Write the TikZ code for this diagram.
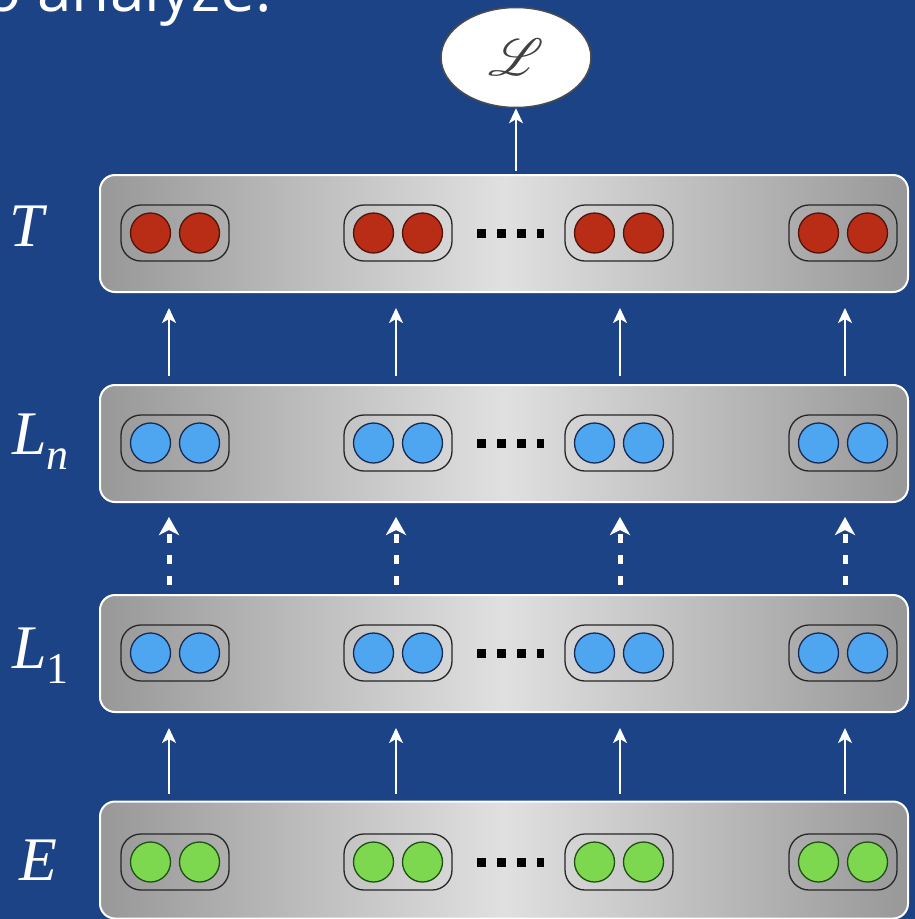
\RequirePackage{fix-cm}
\documentclass[tikz,border=0pt]{standalone}
\usepackage{graphicx}
\usepackage{mathrsfs}
\usepackage{fontspec}
\newfontfamily\titlefont{Open Sans}
\newfontfamily\labfont{Liberation Serif}
\usetikzlibrary{shapes.geometric,arrows.meta}
\definecolor{bgblue}{RGB}{28,67,134}
\definecolor{boxdark}{RGB}{152,152,152}
\definecolor{boxlight}{RGB}{224,224,224}
\definecolor{ured}{RGB}{185,44,22}
\definecolor{uredline}{RGB}{80,20,10}
\definecolor{ublue}{RGB}{78,166,240}
\definecolor{ublueline}{RGB}{25,40,80}
\definecolor{ugreen}{RGB}{125,216,80}
\definecolor{ugreenline}{RGB}{30,80,20}
\newcommand{\labsub}[1]{\raisebox{-15pt}{\fontsize{44}{44}\selectfont #1}}
\tikzset{
  layerbox/.style={draw=white, line width=2pt, rounded corners=15pt,
    minimum width=808pt, minimum height=117pt, inner sep=0pt,
    left color=boxdark, right color=boxdark, middle color=boxlight},
  pill/.style={draw=black!85, line width=1.3pt, rounded corners=20pt,
    minimum width=108pt, minimum height=56pt, inner sep=0pt},
  unit/.style={circle, draw=#1line, fill=#1, line width=1.3pt,
    minimum size=40pt, inner sep=0pt},
  arr/.style={white, line width=2pt, -{Stealth[length=15pt,width=14pt,inset=4pt]}},
  darr/.style={white, line width=5pt, dash pattern=on 9pt off 12pt,
    -{Stealth[length=18pt,width=20pt,inset=5pt]}},
  lab/.style={text=white, font=\labfont\fontsize{62}{62}\selectfont, anchor=base west, inner sep=0pt},
  lossnode/.style={ellipse, draw=black!70, fill=white, line width=1.5pt,
    minimum width=150pt, minimum height=100pt, inner sep=0pt,
    text=black!75}
}
\begin{document}
\begin{tikzpicture}[x=1pt,y=-1pt]
\useasboundingbox (0,0) rectangle (915,919);
\fill[bgblue] (0,0) rectangle (915,919);
\begin{scope}
\clip (0,0) rectangle (915,919);
\node[anchor=base east, text=white, inner sep=0pt, font=\titlefont\fontsize{62}{62}\selectfont] (title) at (272,11) {to analyze:};
\end{scope}

% columns for arrows
\coordinate (c1) at (169,0);
\coordinate (c2) at (396,0);
\coordinate (c3) at (620,0);
\coordinate (c4) at (845,0);

% layers
\foreach \nm/\y/\py/\col in {T/233.5/233/ured, Ln/443.5/443/ublue, L1/653.5/653/ublue, E/860/862/ugreen}{
  \node[layerbox] (\nm) at (504,\y) {};
  \foreach \i/\px in {1/175,2/398,3/619,4/843}{
    \node[pill] (\nm-p\i) at (\px,\py) {};
    \node[unit=\col] (\nm-p\i a) at ([xshift=-24.5pt]\nm-p\i.center) {};
    \node[unit=\col] (\nm-p\i b) at ([xshift=24.5pt]\nm-p\i.center) {};
  }
  \foreach \dx/\w in {477/9,497/9,517/9,537/7}{
    \fill[black] (\dx,\py-4.5) rectangle (\dx+\w,\py+4.5);
  }
}

% labels
\node[lab] (labT) at (9,246) {\itshape T};
\node[lab] (labLn) at (12,454) {\itshape L\labsub{n}};
\node[lab] (labL1) at (12,668) {\itshape L\labsub{\upshape 1}};
\node[lab] (labE) at (19,880) {\itshape E};

% loss
\node[lossnode] (loss) at (516,57.5) {\scalebox{5.2}{$\mathscr{L}$}};
\draw[arr, shorten <=3pt] (T.north -| loss) -- (loss.south);

% arrows
\foreach \c in {c1,c2,c3,c4}{
  \draw[arr, shorten <=8pt, shorten >=15pt] (Ln.north -| \c) -- (T.south -| \c);
  \draw[darr, shorten <=9pt, shorten >=14pt] (L1.north -| \c) -- (Ln.south -| \c);
  \draw[arr, shorten <=7pt, shorten >=15pt] (E.north -| \c) -- (L1.south -| \c);
}
\end{tikzpicture}
\end{document}
